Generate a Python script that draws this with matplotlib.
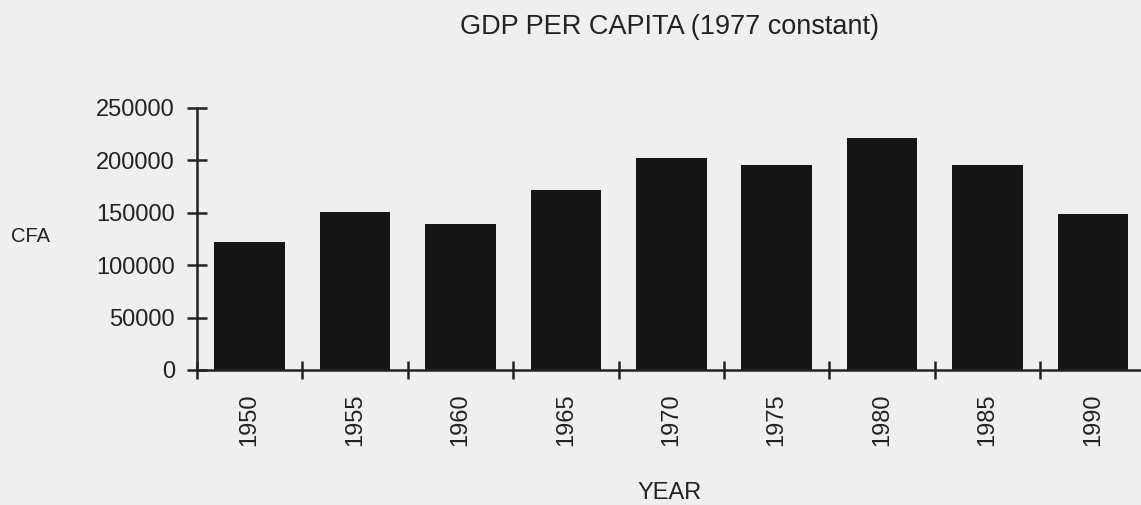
import matplotlib.pyplot as plt

years = ['1950', '1955', '1960', '1965', '1970', '1975', '1980', '1985', '1990']
gdp = [122000, 151000, 139000, 172000, 202000, 196000, 221000, 196000, 149000]
yticks = [0, 50000, 100000, 150000, 200000, 250000]

plt.rcParams['font.family'] = ['Liberation Sans', 'DejaVu Sans']
ink = '#222222'
bg = '#efefef'

fig = plt.figure(figsize=(11.41, 5.05), dpi=100, facecolor=bg)
ax = fig.add_axes([197 / 1141, 1 - 370 / 505, (1141 - 197) / 1141, (370 - 108) / 505])
ax.set_facecolor(bg)

x = list(range(len(years)))
ax.bar(x, gdp, width=0.67, color='#161616')

ax.set_xlim(-0.5, -0.5 + (1141 - 197) / 105.4)
ax.set_ylim(0, 250000)

for side in ['top', 'right']:
    ax.spines[side].set_visible(False)
for side in ['left', 'bottom']:
    ax.spines[side].set_linewidth(1.8)
    ax.spines[side].set_color(ink)

ax.set_yticks(yticks)
ax.set_yticklabels([str(v) for v in yticks])
ax.tick_params(axis='y', direction='inout', length=14, width=1.8, colors=ink,
               labelsize=17, pad=9)

# year labels at the bar centres, tick marks at the category edges
ax.set_xticks(x)
ax.set_xticklabels(years, rotation=90, fontsize=17, color=ink)
ax.tick_params(axis='x', which='major', length=0, pad=17)
ax.set_xticks([i - 0.5 for i in x], minor=True)
ax.tick_params(axis='x', which='minor', direction='inout', length=13, width=1.8, color=ink)

fig.text(670 / 1141, 1 - 27 / 505, 'GDP PER CAPITA (1977 constant)', ha='center', va='center',
         fontsize=19.5, color=ink)
fig.text(11 / 1141, 1 - 236 / 505, 'CFA', ha='left', va='center', fontsize=14.5, color=ink)
fig.text(670 / 1141, 1 - 493 / 505, 'YEAR', ha='center', va='center', fontsize=17, color=ink)

fig.savefig('out.png', dpi=100, facecolor=bg)
